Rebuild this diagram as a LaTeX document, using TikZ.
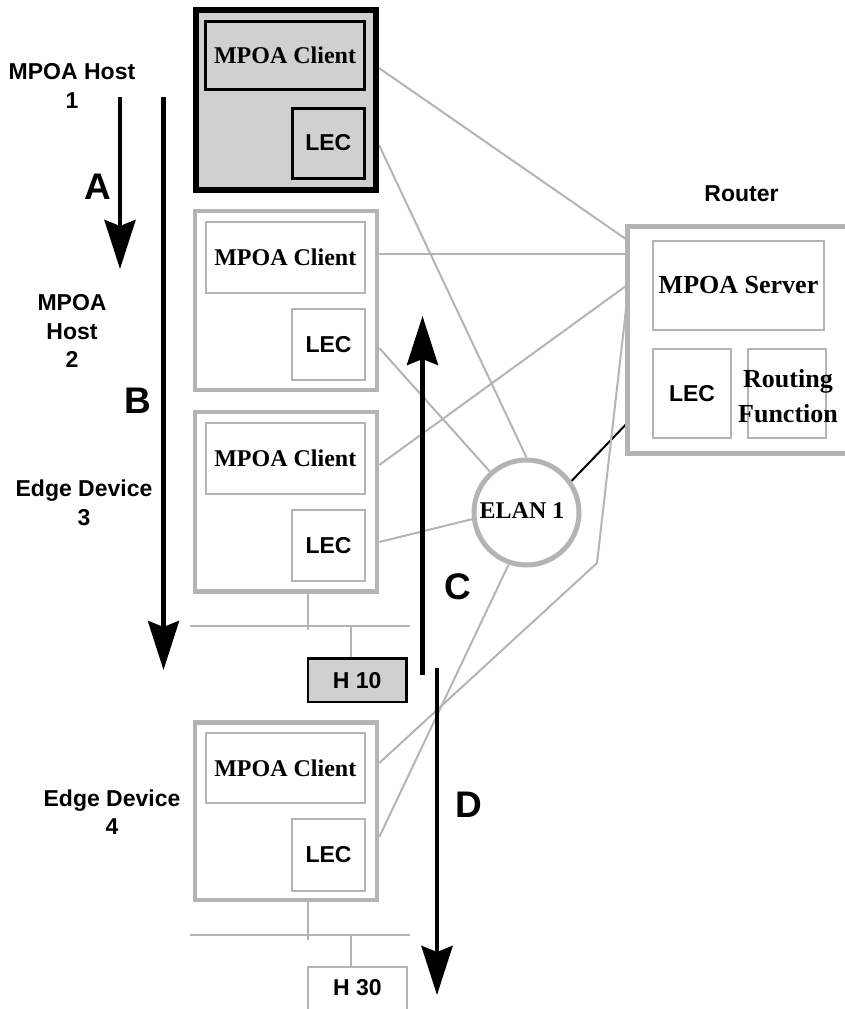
\documentclass[tikz,border=0pt]{standalone}
\usepackage{fontspec}
\setmainfont{Liberation Serif}
\setsansfont{Liberation Sans}
\usetikzlibrary{arrows.meta,backgrounds}
\definecolor{lg}{RGB}{180,180,180}
\definecolor{fg}{RGB}{208,208,208}
\tikzset{
  outerbox/.style={draw=lg, line width=4.5pt, fill=white, inner sep=0pt, minimum width=182pt, minimum height=179pt},
  clientbox/.style={draw=lg, line width=2pt, inner sep=0pt, minimum width=159.5pt, minimum height=70.5pt,
     font=\fontsize{24}{28}\selectfont\rmfamily\bfseries},
  lecbox/.style={draw=lg, line width=2pt, inner sep=0pt, minimum width=73pt, minimum height=71pt,
     font=\fontsize{23}{28}\selectfont\sffamily\bfseries},
  conn/.style={draw=lg, line width=2pt},
  sflab/.style={font=\fontsize{23}{28.5}\selectfont\sffamily\bfseries, align=center, inner sep=0pt},
  biglab/.style={font=\fontsize{37}{40}\selectfont\sffamily\bfseries, inner sep=0pt},
  bigarrow/.style={line width=4.5pt, -{Stealth[length=49pt,width=31pt,inset=6pt]}},
  serifbig/.style={font=\fontsize{26}{35}\selectfont\rmfamily\bfseries, align=center, inner sep=0pt}
}
\begin{document}
\begin{tikzpicture}[x=1pt,y=-1pt]
\useasboundingbox (0,0) rectangle (845,1009);

% Host 1
\node[outerbox, draw=black, fill=fg, line width=6pt, minimum width=180pt, minimum height=180pt] (box1) at (286,100) {};
\node[clientbox, draw=black, line width=3pt, minimum width=159pt, minimum height=68pt] (client1) at (285,55.5) {MPOA Client};
\node[lecbox, draw=black, line width=3pt, minimum width=72.5pt, minimum height=70pt] (lec1) at (328.25,143) {LEC};

% Host 2
\node[outerbox] (box2) at (286,300.5) {};
\node[clientbox] (client2) at (285.25,257.5) {MPOA Client};
\node[lecbox] (lec2) at (328.5,344.25) {LEC};

% Edge device 3
\node[outerbox, minimum height=179.5pt] (box3) at (286,501.75) {};
\node[clientbox] (client3) at (285.25,458.5) {MPOA Client};
\node[lecbox] (lec3) at (328.5,545.5) {LEC};

% Edge device 4
\node[outerbox, minimum height=177.5pt] (box4) at (286,811.25) {};
\node[clientbox, minimum height=70pt] (client4) at (285.25,768) {MPOA Client};
\node[lecbox, minimum height=72pt] (lec4) at (328.5,855) {LEC};

% Hosts H10 / H30
\node[draw=black, fill=fg, line width=2.5pt, inner sep=0pt, minimum width=98.5pt, minimum height=43.5pt,
      font=\fontsize{23}{28}\selectfont\sffamily\bfseries] (h10) at (357.25,680.25) {H 10};
\node[inner sep=0pt, minimum width=99pt, minimum height=42pt,
      font=\fontsize{23}{28}\selectfont\sffamily\bfseries] (h30) at (357.5,988) {H 30};
\draw[conn] ([yshift=-4pt]h30.south west) -- (h30.north west) -- (h30.north east) -- ([yshift=-4pt]h30.south east);

% Router
\node[inner sep=0pt, minimum width=219pt, minimum height=227pt] (router) at (737,340) {};
\draw[draw=lg, line width=4.5pt] ([xshift=10pt]router.north east) -- (router.north west)
      -- (router.south west) -- ([xshift=10pt]router.south east);
\node[clientbox, minimum width=171pt, minimum height=89pt, font=\fontsize{26}{30}\selectfont\rmfamily\bfseries] (server) at (738.5,285) {MPOA Server};
\node[lecbox, minimum width=78pt, minimum height=89pt] (rlec) at (692,393.5) {LEC};
\node[draw=lg, line width=2pt, inner sep=0pt, minimum width=78pt, minimum height=89pt] (rfun) at (787,393.5) {};
\node[serifbig] (rftext) at (788,396) {Routing\\Function};
\node[sflab] (routerlab) at (741.5,193.5) {Router};

% ELAN
\node[circle, draw=lg, line width=5pt, fill=white, inner sep=0pt, minimum size=105pt] (elan) at (526.5,512.5) {};
\node[inner sep=0pt, font=\fontsize{24}{28}\selectfont\rmfamily\bfseries] (elantext) at (522,511) {ELAN 1};

% left labels
\node[sflab] (l1) at (72,86) {MPOA Host\\1};
\node[sflab] (l2) at (72,331) {MPOA\\Host\\2};
\node[sflab] (l3) at (84,503) {Edge Device\\3};
\node[sflab] (l4) at (112,812) {Edge Device\\4};

% connectors
\coordinate (bend) at (597,563);
\begin{scope}[on background layer]
\draw[conn] (box1.east |- 0,68) -- (router.west |- 0,240);
\draw[conn] (box1.east |- 0,145) -- (elan.north);
\draw[conn] (box2.east |- 0,254) -- (router.west |- 0,254);
\draw[conn] (box2.east |- 0,348) -- (elan);
\draw[conn] (box3.east |- 0,465) -- (router.west |- 0,285);
\draw[conn] (box3.east |- 0,542) -- (elan.187);
\draw[line width=2pt, black] (elan.35) -- (router.west |- 0,423);
\draw[conn] (box4.east |- 0,763) -- (bend) -- (router.west |- 0,298);
\draw[conn] (box4.east |- 0,837) -- (elan.251);
% LAN buses
\draw[conn] (box3.south -| 308,0) -- (308,630);
\draw[conn] (190,625.5) -- (410,625.5);
\draw[conn] (350.5,624.5) -- (h10.north -| 350.5,0);
\draw[conn] (box4.south -| 308,0) -- (308,940);
\draw[conn] (190,935) -- (410,935);
\draw[conn] (350.5,934) -- (h30.north -| 350.5,0);
\end{scope}

% flow arrows
\coordinate (a1) at (120,97);   \coordinate (a2) at (120,269);
\coordinate (b1) at (163.5,97); \coordinate (b2) at (163.5,670);
\coordinate (c1) at (422.5,675);\coordinate (c2) at (422.5,316);
\coordinate (d1) at (437,668);  \coordinate (d2) at (437,995);
\draw[bigarrow] (a1) -- (a2);
\draw[bigarrow] (b1) -- (b2);
\draw[bigarrow] (c1) -- (c2);
\draw[bigarrow] (d1) -- (d2);
\node[biglab] (la) at (97.5,187) {A};
\node[biglab] (lb) at (137.5,401) {B};
\node[biglab] (lc) at (457.5,587) {C};
\node[biglab] (ld) at (469,805) {D};
\end{tikzpicture}
\end{document}
